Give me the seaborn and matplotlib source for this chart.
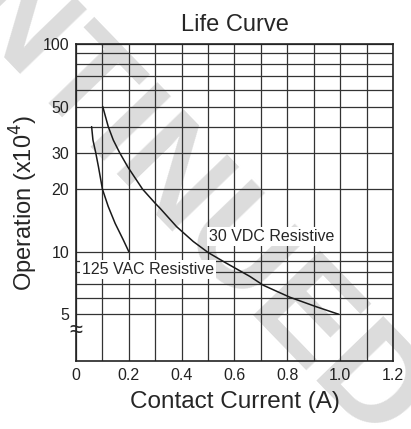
import numpy as np
import pandas as pd
import seaborn as sns
import matplotlib
matplotlib.use("Agg")
import matplotlib.pyplot as plt

# values
vac_current = [0.059, 0.064, 0.0745, 0.085, 0.100, 0.122, 0.148, 0.179, 0.200]
vac_operation = [40.0, 34.5, 30.0, 25.6, 20.0, 16.5, 13.7, 11.4, 10.0]

vdc_current = [0.101, 0.122, 0.141, 0.165, 0.196, 0.252, 0.300, 0.318, 0.381,
               0.444, 0.501, 0.570, 0.659, 0.709, 0.810, 0.911, 0.995]
vdc_operation = [50.0, 40.0, 34.5, 30.0, 25.6, 20.0, 17.1, 16.2, 13.2,
                 11.2, 9.9, 8.8, 7.6, 6.9, 6.04, 5.43, 5.0]

x_ticks = [0, 0.2, 0.4, 0.6, 0.8, 1.0, 1.2]
x_tick_labels = ["0", "0.2", "0.4", "0.6", "0.8", "1.0", "1.2"]
y_grid = [5, 6, 7, 8, 9, 10, 20, 30, 40, 50, 60, 70, 80, 90, 100]
y_tick_labels = {5: "5", 10: "10", 20: "20", 30: "30", 50: "50", 100: "100"}

df = pd.concat([
    pd.DataFrame({"current": vac_current, "operation": vac_operation, "series": "125 VAC Resistive"}),
    pd.DataFrame({"current": vdc_current, "operation": vdc_operation, "series": "30 VDC Resistive"}),
])

sns.set_style("white")
plt.rcParams["font.family"] = ["Liberation Sans", "DejaVu Sans"]

fig = plt.figure(figsize=(4.11, 4.29), dpi=100)
ax = fig.add_axes([0.185, 0.1585, 0.771, 0.739])
ax.set_facecolor("none")

# watermark behind the chart
fig.text(0.1, 0.872, "DISCONTINUED", rotation=-46, rotation_mode="anchor",
         ha="center", va="center", fontsize=98, fontweight="bold",
         color="#dcdcdc", zorder=-10)

sns.lineplot(data=df, x="current", y="operation", hue="series", units="series",
             estimator=None, palette=["#1a1a1a", "#1a1a1a"], linewidth=1.1,
             legend=False, ax=ax, zorder=5)

ax.set_yscale("log")
ax.set_xlim(0, 1.2)
ax.set_ylim(2.98, 100)

grid_x = np.round(np.arange(0, 1.21, 0.1), 1)
ax.set_xticks(grid_x)
ax.set_xticklabels([x_tick_labels[x_ticks.index(v)] if v in x_ticks else "" for v in grid_x])
ax.yaxis.set_minor_locator(matplotlib.ticker.NullLocator())
ax.set_yticks(y_grid)
ax.set_yticklabels([y_tick_labels.get(v, "") for v in y_grid])
ax.tick_params(length=0, labelsize=11.5, pad=5, colors="#222222")
ax.grid(True, color="#333333", linewidth=0.9)
for s in ax.spines.values():
    s.set_color("#222222")
    s.set_linewidth(1.2)

ax.set_title("Life Curve", fontsize=17, pad=9)
ax.set_xlabel("Contact Current (A)", fontsize=17.5, labelpad=6)
ax.set_ylabel("Operation (x10$^4$)", fontsize=17, labelpad=2)

box = dict(facecolor="white", edgecolor="none", pad=1.5)
ax.text(0.503, 11.8, "30 VDC Resistive", fontsize=11.5, ha="left", va="center", bbox=box, zorder=6)
ax.text(0.022, 8.22, "125 VAC Resistive", fontsize=11.5, ha="left", va="center", bbox=box, zorder=6)

# axis break mark on the left spine
ax.text(0, 4.15, "≈", fontsize=17, ha="center", va="center", transform=ax.get_yaxis_transform(),
        clip_on=False, zorder=7)

fig.savefig("out.png", dpi=100)
